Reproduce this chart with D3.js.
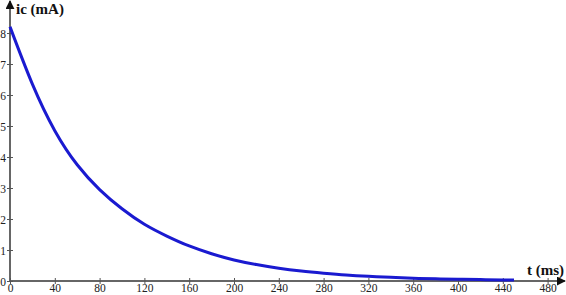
<!DOCTYPE html>
<html>
<head>
<meta charset="utf-8">
<script src="https://cdn.jsdelivr.net/npm/d3@7"></script>
<style>
  body { margin: 0; background: #fff; }
  svg { display: block; }
  .tick text { font-family: "Liberation Serif", "Times New Roman", "DejaVu Serif", serif; font-size: 11.5px; fill: #222; }
  .lbl { font-family: "Liberation Serif", "Times New Roman", "DejaVu Serif", serif; font-size: 15px; font-weight: bold; fill: #111; }
</style>
</head>
<body>
<div id="chart"></div>
<script>
// time (ms) and capacitor current (mA)
var times = [0, 20, 40, 60, 80, 100, 120, 140, 160, 180, 200, 220, 240, 260, 280, 300, 320, 340, 360, 380, 400, 420, 440, 450]
var current = [8.2, 6.35, 4.85, 3.75, 2.95, 2.33, 1.83, 1.45, 1.13, 0.88, 0.68, 0.53, 0.41, 0.32, 0.25, 0.19, 0.15, 0.12, 0.09, 0.07, 0.055, 0.045, 0.035, 0.03]
var xTicks = [0, 40, 80, 120, 160, 200, 240, 280, 320, 360, 400, 440, 480]
var yTicks = [0, 1, 2, 3, 4, 5, 6, 7, 8]

var W = 566, H = 295
var data = times.map(function(t, i){ return {t: t, ic: current[i]} })

var svg = d3.select('#chart').append('svg').attr('width', W).attr('height', H)

var x = d3.scaleLinear().domain([0, 480]).range([10, 547.6])
var y = d3.scaleLinear().domain([0, 8]).range([281, 33])

// axis lines with arrows
svg.append('defs').append('marker')
  .attr('id', 'arr').attr('viewBox', '0 0 10 10')
  .attr('refX', 9).attr('refY', 5)
  .attr('markerWidth', 9).attr('markerHeight', 9)
  .attr('markerUnits', 'userSpaceOnUse')
  .attr('orient', 'auto')
  .append('path').attr('d', 'M0,0 L10,5 L0,10 Z').attr('fill', '#111')

svg.append('line')
  .attr('x1', x(0)).attr('y1', y(0)).attr('x2', 565).attr('y2', y(0))
  .attr('stroke', '#333').attr('stroke-width', 1.5).attr('marker-end', 'url(#arr)')
svg.append('line')
  .attr('x1', x(0)).attr('y1', y(0)).attr('x2', x(0)).attr('y2', 1)
  .attr('stroke', '#333').attr('stroke-width', 1.5).attr('marker-end', 'url(#arr)')

var xAxis = d3.axisBottom(x).tickValues(xTicks).tickSize(3).tickPadding(0)
var gx = svg.append('g').attr('transform', 'translate(0,' + y(0) + ')').call(xAxis)
gx.select('.domain').remove()
gx.selectAll('.tick line').attr('y1', -3).attr('y2', 3).attr('stroke', '#555')

var yAxis = d3.axisLeft(y).tickValues(yTicks).tickSize(3).tickPadding(1)
var gy = svg.append('g').attr('transform', 'translate(' + x(0) + ',0)').call(yAxis)
gy.select('.domain').remove()
gy.selectAll('.tick line').attr('x1', -3).attr('x2', 3).attr('stroke', '#555')
gy.selectAll('.tick text').attr('dy', '0.35em')

// curve
var line = d3.line()
  .x(function(d){ return x(d.t) })
  .y(function(d){ return y(d.ic) })
  .curve(d3.curveNatural)

svg.append('path')
  .attr('d', line(data))
  .attr('fill', 'none')
  .attr('stroke', '#1a1ad0')
  .attr('stroke-width', 3)

// labels
svg.append('text').attr('class', 'lbl').attr('x', 16).attr('y', 14).text('ic (mA)')
svg.append('text').attr('class', 'lbl').attr('x', 527).attr('y', 275).text('t (ms)')
</script>
</body>
</html>
